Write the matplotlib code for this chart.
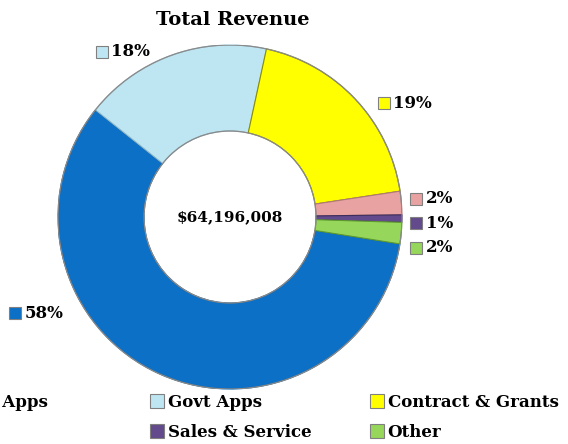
import matplotlib.pyplot as plt
from matplotlib.lines import Line2D

# dados
categorias = ["State Apps", "Govt Apps", "Contract & Grants", "Fees", "Sales & Service", "Other"]
valores = [58.2, 17.7, 19.2, 2.2, 0.7, 2.0]
cores = ["#0B70C6", "#BEE6F2", "#FFFF00", "#E8A2A2", "#634A8C", "#96D65A"]
bordas = ["#0A5A9E", "#8FB8C8", "#8C8C00", "#B07878", "#3E2D5C", "#5E9A2E"]
total_txt = "$64,196,008"

# posicoes dos rotulos (em raios do grafico)
pos_rotulos = [(-1.25, -0.56), (-0.744, 0.96), (0.895, 0.66),
               (1.084, 0.105), (1.084, -0.035), (1.084, -0.18)]

plt.rcParams['font.family'] = ['DejaVu Serif']
fig = plt.figure(figsize=(5.68, 4.44), dpi=100)
ax = fig.add_axes([58/568, 55/444, 344/568, 344/444])

wedges, _ = ax.pie(valores, colors=cores, startangle=-9, counterclock=False,
                   radius=1, wedgeprops=dict(width=0.5, linewidth=0.8))
for w, b in zip(wedges, bordas):
    w.set_edgecolor(b)

ax.set_xlim(-1, 1)
ax.set_ylim(-1, 1)
ax.set_aspect('equal')
ax.axis('off')

# contorno cinza externo e interno
ax.add_patch(plt.Circle((0, 0), 1, fill=False, ec='#8a8a8a', lw=0.9))
ax.add_patch(plt.Circle((0, 0), 0.5, fill=False, ec='#8a8a8a', lw=0.9))

ax.text(0, 0.0, total_txt, ha='center', va='center', fontsize=11, fontweight='bold')

soma = sum(valores)
for v, c, (x, y) in zip(valores, cores, pos_rotulos):
    ax.plot(x, y, marker='s', markersize=8, color=c, markeredgecolor='#808080',
            markeredgewidth=0.8, clip_on=False)
    ax.text(x + 0.055, y, f"{round(100*v/soma)}%", ha='left', va='center',
            fontsize=12, fontweight='bold', clip_on=False)

fig.text(233/568, 1 - 20/444, "Total Revenue", ha='center', va='center',
         fontsize=14, fontweight='bold')

# legenda em 3 colunas (ordem por linha, como no Excel; "Fees" fica fora da imagem)
def item(i):
    return Line2D([], [], marker='s', linestyle='none', markersize=10,
                  markerfacecolor=cores[i], markeredgecolor='#808080', markeredgewidth=0.8)

colunas = [[0], [1, 4], [2, 5]]
xs = [-70/568, 150/568, 370/568]
for xc, idx in zip(xs, colunas):
    fig.legend([item(i) for i in idx], [categorias[i] for i in idx],
               loc='upper left', bbox_to_anchor=(xc, 1 - 394/444),
               frameon=False, borderpad=0, borderaxespad=0, handlelength=0.8,
               handletextpad=0.25, labelspacing=0.78,
               prop=dict(family='DejaVu Serif', weight='bold', size=12))

plt.savefig("out.png", dpi=100)
